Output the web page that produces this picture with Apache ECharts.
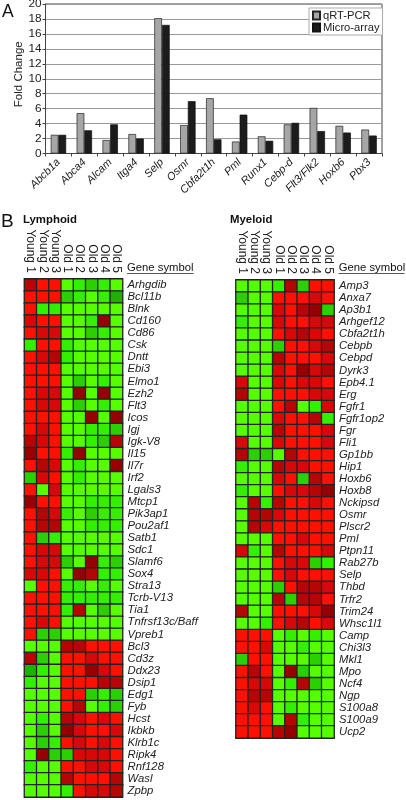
<!DOCTYPE html>
<html><head><meta charset="utf-8">
<style>html,body{margin:0;padding:0;background:#fff}#c{width:406px;height:800px}</style>
<script src="https://cdn.jsdelivr.net/npm/echarts@6/dist/echarts.min.js"></script>
</head><body><div id="c"></div>
<script>
const barGenes=['Abcb1a','Abca4','Alcam','Itga4','Selp','Osmr','Cbfa2t1h','Pml','Runx1','Cebp-d','Flt3/Flk2','Hoxb6','Pbx3'];
const qrtPcr=[2.5,5.4,1.8,2.6,18.1,3.8,7.4,1.6,2.3,3.9,6.1,3.7,3.2];
const microArray=[2.5,3.1,3.9,2.0,17.2,7.0,1.9,5.2,1.7,4.1,3.0,2.8,2.4];
const samples=['Young 1','Young 2','Young 3','Old 1','Old 2','Old 3','Old 4','Old 5'];
const lymphoidGenes=['Arhgdib','Bcl11b','Blnk','Cd160','Cd86','Csk','Dntt','Ebi3','Elmo1','Ezh2','Flt3','Icos','Igj','Igk-V8','Il15','Il7r','Irf2','Lgals3','Mtcp1','Pik3ap1','Pou2af1','Satb1','Sdc1','Slamf6','Sox4','Stra13','Tcrb-V13','Tia1','Tnfrsf13c/Baff','Vpreb1','Bcl3','Cd3z','Ddx23','Dsip1','Edg1','Fyb','Hcst','Ikbkb','Klrb1c','Ripk4','Rnf128','Wasl','Zpbp'];
const lymphoidLevels=[
[3,1,1,-1,-2,-3,-2,-1],[1,1,1,-3,-2,-1,-2,-4],[1,-2,-2,-1,-1,-1,-1,-1],[2,1,1,-1,-1,-2,4,-1],[1,2,2,-1,-1,-3,-2,-1],
[-2,1,1,-2,-1,-1,-1,-1],[1,2,3,-2,-1,-1,-1,-1],[1,1,1,-1,-1,-1,-1,-1],[1,1,1,-1,-3,-1,-2,-1],[1,2,2,-1,4,-1,4,-1],
[1,2,2,-1,-3,-1,-2,-1],[1,1,1,-1,-1,4,-1,4],[1,2,1,-1,-1,-2,-2,-3],[3,2,1,-1,-1,-2,-3,3],[4,1,1,-2,4,-1,-1,-1],
[1,3,2,-1,-2,-1,-1,4],[-3,2,1,-1,-2,-1,-1,-1],[1,-1,2,-1,-1,-1,-1,-1],[4,1,1,-1,-1,-2,-2,-2],[1,3,2,-2,-1,-3,-2,-2],
[1,3,3,-1,-1,-2,-2,-2],[1,-3,-2,-1,-1,-1,-1,-1],[1,2,2,-1,-1,-1,-1,-1],[1,2,2,-3,-1,4,-2,-3],[2,2,1,-1,4,3,-2,-2],
[-1,1,1,-2,-2,-1,-2,-1],[1,1,1,-2,-2,-2,-2,-2],[1,1,1,-2,3,-1,-3,-1],[1,2,1,-1,-1,-1,-1,-1],[1,-3,-3,-1,-1,-1,-1,-1],
[-1,-1,-1,3,3,1,1,1],[3,-3,-1,1,1,2,1,1],[-4,-2,-1,1,1,4,2,1],[-2,-1,-1,1,1,1,3,3],[-1,-1,-1,1,1,-3,-2,-3],
[-1,-1,-1,1,3,-1,-2,-3],[-1,-2,-1,3,2,1,2,1],[-1,-3,-1,4,2,1,1,2],[-1,-3,-2,1,2,1,2,1],[-1,4,-3,-3,2,2,2,1],
[-2,-1,-1,1,1,2,2,1],[-1,-1,-1,3,1,1,1,3],[-1,-1,-1,-2,1,2,2,3]];
const myeloidGenes=['Amp3','Anxa7','Ap3b1','Arhgef12','Cbfa2t1h','Cebpb','Cebpd','Dyrk3','Epb4.1','Erg','Fgfr1','Fgfr1op2','Fgr','Fli1','Gp1bb','Hip1','Hoxb6','Hoxb8','Nckipsd','Osmr','Plscr2','Pml','Ptpn11','Rab27b','Selp','Thbd','Trfr2','Trim24','Whsc1l1','Camp','Chi3l3','Mkl1','Mpo','Ncf4','Ngp','S100a8','S100a9','Ucp2'];
const myeloidLevels=[
[-1,-1,-1,-2,3,-3,1,1],[-3,-1,-1,1,1,1,2,1],[-1,-1,-1,2,1,3,4,-3],[-2,-1,-1,2,1,1,2,2],[-1,-1,-1,1,2,3,2,1],
[-1,-1,-1,-3,1,1,2,3],[-1,-1,-1,3,1,1,1,2],[-1,-1,-1,2,1,4,2,3],[2,-1,-1,2,1,2,2,1],[3,-1,-1,1,1,1,2,2],
[-1,-1,-1,1,3,-1,-2,2],[-1,-1,-1,2,1,1,3,-2],[-1,-1,-1,3,1,1,1,2],[2,-1,-1,2,1,1,1,2],[3,-3,-3,-1,3,1,1,1],
[-2,-1,-1,3,2,2,1,1],[-1,-1,-1,2,1,-3,3,1],[-2,-1,-1,1,2,2,3,4],[-1,3,-2,3,1,1,2,1],[-1,3,3,2,1,1,1,1],
[-1,3,2,1,1,1,1,1],[-1,-1,-1,1,1,2,1,1],[2,-2,-1,3,1,1,1,2],[-1,-1,-1,1,2,2,-3,-2],[-1,-1,-1,1,2,1,1,1],
[-1,-1,-1,-3,1,3,3,2],[-1,-1,-1,3,-3,3,3,1],[3,-1,-1,1,1,1,2,4],[-1,-1,-2,1,2,3,1,2],
[1,1,1,-1,-2,-1,-2,-1],[1,1,2,-1,-1,-2,-1,-1],[-3,1,1,-1,-1,-1,-3,-1],[1,3,1,-1,4,-3,-1,-1],[1,2,2,-1,-2,3,-3,-1],
[1,3,3,-1,-1,-1,-1,-1],[1,2,1,-1,-2,-1,-1,-1],[1,1,1,-1,3,-2,-1,-1],[1,1,1,3,4,-1,-1,-1]];
const levelColors={'4':'#960000','3':'#b50505','2':'#d80808','1':'#ff1000','-1':'#55ff00','-2':'#33f000','-3':'#2ad000','-4':'#22b000'};

const F='"Liberation Sans",Arial,sans-serif';
const cells=m=>m.flatMap((r,y)=>r.map((v,x)=>[x,y,v]));
const hmGrid=(left,top,h)=>({left,top,width:98,height:h,containLabel:false,outerBoundsMode:'none'});
const hmX=i=>({type:'category',gridIndex:i,data:samples,position:'top',axisLine:{show:false},axisTick:{show:false},splitLine:{show:false},
  axisLabel:{interval:0,rotate:90,fontFamily:F,fontSize:12,color:'#222',margin:6,padding:[0,0,6,0]}});
const hmY=(i,d)=>({type:'category',gridIndex:i,data:d,inverse:true,position:'right',axisLine:{show:false},axisTick:{show:false},splitLine:{show:false},
  axisLabel:{interval:0,fontFamily:F,fontStyle:'italic',fontSize:11.3,color:'#222',margin:5}});
const hm=(i,m)=>({type:'heatmap',xAxisIndex:i,yAxisIndex:i,data:cells(m),itemStyle:{borderColor:'#222222',borderWidth:1.3},emphasis:{disabled:true},silent:true,progressive:0});
const txt=(x,y,s,font)=>({type:'text',left:x,top:y,style:{text:s,font:font,fill:'#111'}});
const chart=echarts.init(document.getElementById('c'),null,{renderer:'canvas'});
chart.setOption({
  animation:false,backgroundColor:'#fff',
  legend:{data:['qRT-PCR','Micro-array'],orient:'vertical',icon:'rect',left:309,top:8,itemWidth:7,itemHeight:8,itemGap:1,padding:[2,3,2,3],
    backgroundColor:'#fff',borderColor:'#aaa',borderWidth:1,textStyle:{fontFamily:F,fontSize:11.2,color:'#222',padding:[0,0,0,-2]}},
  visualMap:{show:false,type:'piecewise',seriesIndex:[2,3],dimension:2,
    pieces:Object.keys(levelColors).map(k=>({value:Number(k),color:levelColors[k]}))},
  grid:[{left:45.5,top:4,width:336.5,height:149.5,containLabel:false,outerBoundsMode:'none',show:true,borderColor:'#444',borderWidth:1,backgroundColor:'#fff'},
        hmGrid(24.5,279,518),hmGrid(236,280,458)],
  xAxis:[{type:'category',gridIndex:0,data:barGenes,axisLine:{lineStyle:{color:'#444'}},axisTick:{show:true,alignWithLabel:false,length:3,lineStyle:{color:'#444'}},
    axisLabel:{interval:0,rotate:45,fontFamily:F,fontStyle:'italic',fontSize:11,color:'#222',margin:7}},hmX(1),hmX(2)],
  yAxis:[{type:'value',gridIndex:0,min:0,max:20,interval:2,name:'Fold Change',nameLocation:'middle',nameGap:21,nameMoveOverlap:false,
    nameTextStyle:{fontFamily:F,fontSize:11.5,color:'#222',padding:[0,0,0,9]},axisLine:{show:true,lineStyle:{color:'#444'}},axisTick:{show:true,length:3,lineStyle:{color:'#444'}},
    axisLabel:{fontFamily:F,fontSize:11.8,color:'#222',margin:4},splitLine:{show:true,lineStyle:{color:'#999',width:1}}},
    hmY(1,lymphoidGenes),hmY(2,myeloidGenes)],
  series:[
    {name:'qRT-PCR',type:'bar',data:qrtPcr,barWidth:7.7,barGap:0,itemStyle:{color:'#a6a6a6',borderColor:'#222',borderWidth:0.7}},
    {name:'Micro-array',type:'bar',data:microArray,barWidth:7.7,barGap:0,itemStyle:{color:'#1c1c1c',borderColor:'#111',borderWidth:0.7}},
    hm(1,lymphoidLevels),hm(2,myeloidLevels)],
  graphic:[
    txt(2,3,'A','17.5px '+F),txt(1,212,'B','19px '+F),
    txt(23,214,'Lymphoid','bold 11.4px '+F),txt(230,214,'Myeloid','bold 11.4px '+F),
    txt(127,262,'Gene symbol','11.3px '+F),txt(338.7,262,'Gene symbol','11.3px '+F),
    {type:'rect',shape:{x:127,y:273,width:66.5,height:0.8},style:{fill:'#222'}},
    {type:'rect',shape:{x:338.5,y:273,width:66,height:0.8},style:{fill:'#222'}}
  ]
});
</script></body></html>
